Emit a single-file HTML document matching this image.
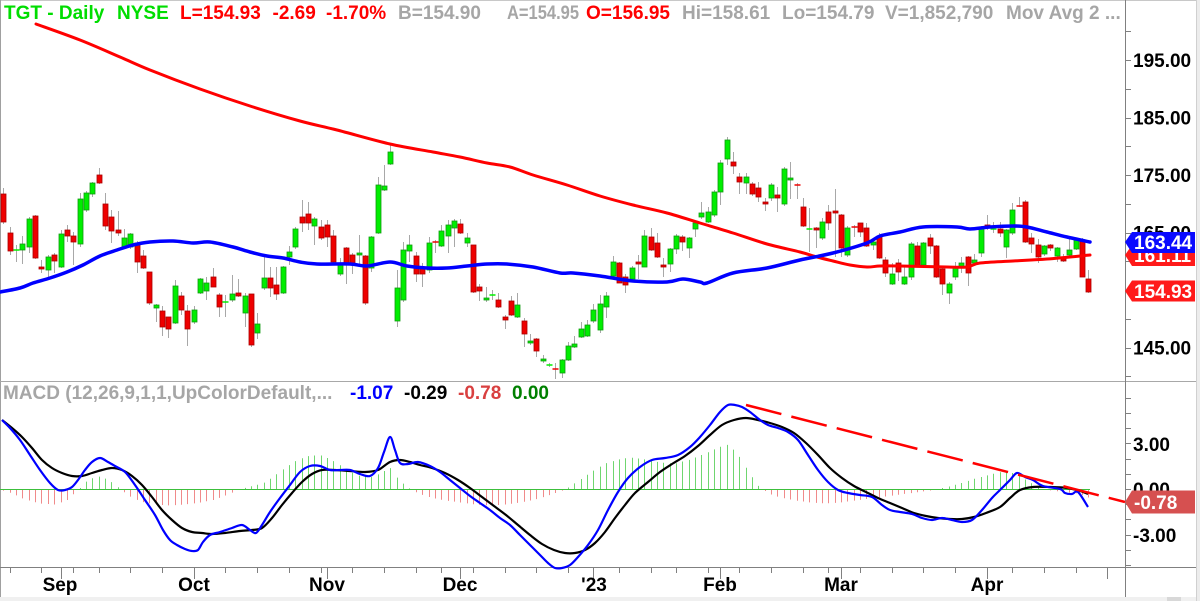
<!DOCTYPE html>
<html><head><meta charset="utf-8">
<style>
html,body{margin:0;padding:0;background:#fff;overflow:hidden;}
svg{display:block;}
text{font-family:"Liberation Sans",Arial,sans-serif;font-weight:bold;}
</style></head>
<body>
<svg id="svg" width="1200" height="601" viewBox="0 0 1200 601" xmlns="http://www.w3.org/2000/svg">
<rect x="0" y="0" width="1200" height="601" fill="#ffffff"/>
<rect x="1196" y="0" width="4" height="601" fill="#ececec"/>
<line x1="1196.5" y1="0" x2="1196.5" y2="601" stroke="#d0d0d0"/>
<rect x="0" y="597" width="1196" height="4" fill="#f0f0f0"/>
<rect x="1167" y="597" width="14" height="4" fill="#d8d8d8"/>
<line x1="0" y1="0.5" x2="1196" y2="0.5" stroke="#c8c8c8"/>
<line x1="0.5" y1="0" x2="0.5" y2="597" stroke="#a0a0a0"/>
<line x1="0" y1="381.5" x2="1196" y2="381.5" stroke="#a8a8a8"/>
<line x1="0" y1="567.5" x2="1196" y2="567.5" stroke="#808080"/>
<line x1="1125.5" y1="0" x2="1125.5" y2="597" stroke="#808080"/>

<g id="hist"></g>
<line x1="0" y1="489.5" x2="1090" y2="489.5" stroke="#3cbf3c" stroke-width="1"/>
<g id="macd"></g>
<g id="cand"></g>
<g id="ma"></g>
<g id="ticks" stroke="#808080" stroke-width="1"></g>

<!-- Price axis labels -->
<g font-size="19" fill="#000">
<text x="1133" y="66.8">195.00</text>
<text x="1133" y="124.3">185.00</text>
<text x="1133" y="181.8">175.00</text>
<text x="1133" y="239.3">165.00</text>
<text x="1133" y="296.8">155.00</text>
<text x="1133" y="354.3">145.00</text>
<text x="1133" y="450.8">3.00</text>
<text x="1133" y="495.8">0.00</text>
<text x="1133" y="541.8">-3.00</text>
</g>

<!-- Value boxes -->
<path d="M1125,255 L1132,245 L1195,245 L1195,266 L1132,266 Z" fill="#ff1a1a"/>
<text x="1134" y="262" font-size="19" fill="#fff">161.11</text>
<path d="M1125,242 L1132,232 L1195,232 L1195,253 L1132,253 Z" fill="#0a0aff"/>
<text x="1134" y="249" font-size="19" fill="#fff">163.44</text>
<path d="M1125,291 L1132,280.5 L1195,280.5 L1195,301.5 L1132,301.5 Z" fill="#ff1a1a"/>
<text x="1134" y="298" font-size="19" fill="#fff">154.93</text>
<path d="M1125,502 L1132,490.5 L1195,490.5 L1195,513.5 L1132,513.5 Z" fill="#d65050"/>
<text x="1134" y="509" font-size="19" fill="#fff">-0.78</text>

<!-- Month labels -->
<g font-size="19" fill="#000" text-anchor="middle">
<text x="60" y="591">Sep</text>
<text x="194" y="591">Oct</text>
<text x="327" y="591">Nov</text>
<text x="460" y="591">Dec</text>
<text x="594" y="591">'23</text>
<text x="720" y="591">Feb</text>
<text x="841" y="591">Mar</text>
<text x="987" y="591">Apr</text>
</g>

<!-- Title -->
<g font-size="19">
<text x="4" y="19" fill="#00dd00">TGT - Daily</text>
<text x="117" y="19" fill="#00dd00">NYSE</text>
<text x="180" y="19" fill="#ff0000">L=154.93</text>
<text x="272.5" y="19" fill="#ff0000">-2.69</text>
<text x="326" y="19" fill="#ff0000">-1.70%</text>
<text x="398" y="19" fill="#a6a6a6">B=154.90</text>
<text x="507" y="19" fill="#a6a6a6" textLength="72" lengthAdjust="spacingAndGlyphs">A=154.95</text>
<text x="586" y="19" fill="#ff0000">O=156.95</text>
<text x="682" y="19" fill="#a6a6a6">Hi=158.61</text>
<text x="782" y="19" fill="#a6a6a6">Lo=154.79</text>
<text x="885" y="19" fill="#a6a6a6">V=1,852,790</text>
<text x="1006" y="19" fill="#a6a6a6">Mov Avg 2 ...</text>
</g>
<g font-size="19">
<text x="3" y="399" fill="#a6a6a6">MACD (12,26,9,1,1,UpColorDefault,...</text>
<text x="350" y="399" fill="#0000ff">-1.07</text>
<text x="404" y="399" fill="#000000">-0.29</text>
<text x="458" y="399" fill="#d94040">-0.78</text>
<text x="512" y="399" fill="#008000">0.00</text>
</g>
</svg>
<script>
(function(){
var NS="http://www.w3.org/2000/svg";
function el(parent,tag,attrs){var e=document.createElementNS(NS,tag);for(var k in attrs)e.setAttribute(k,attrs[k]);document.getElementById(parent).appendChild(e);return e;}
var S=6.345,X0=3.4;function X(i){return X0+i*S;}
var D=[
[0,194,222,188,224],[0,233,251,227,255],[1,250,250,245,262],[1,244,250,236,264],[1,219,247,217,253],
[0,216,258,215,259],[0,267,269,260,273],[1,257,270,255,277],[0,255,261,253,273],[1,234,267,230,268],
[0,230,236,225,242],[0,236,242,232,265],[1,199,244,193,247],[1,193,210,191,212],[1,183,194,182,197],
[0,175,183,168,184],[0,204,226,193,230],[0,217,231,210,243],[0,230,233,211,236],[1,238,247,229,248],
[1,234,247,233,249],[0,243,262,241,273],[0,256,268,250,269],[0,272,303,272,305],[1,305,308,304,322],
[0,311,327,306,336],[0,317,329,317,338],[1,286,323,280,324],[0,296,310,292,315],[0,311,329,305,346],
[1,310,322,306,324],[1,279,293,278,294],[1,283,291,277,300],[0,277,287,268,287],[0,295,307,293,317],
[1,302,302,295,317],[1,294,300,275,302],[0,293,296,279,297],[1,296,313,293,327],[0,294,345,294,347],
[1,324,333,313,339],[1,278,288,256,290],[0,278,288,267,297],[0,285,294,267,300],[1,267,293,266,294],
[1,252,257,246,265],[1,229,247,227,249],[0,217,223,200,232],
[0,214,223,202,230],[1,219,226,217,245],[0,227,238,220,240],[0,225,237,220,247],[0,236,262,230,263],
[1,265,274,258,276],[0,248,264,247,284],[0,255,263,253,274],[1,253,255,235,267],[0,256,303,255,305],
[1,237,268,236,272],[1,185,233,177,234],[1,186,190,165,191],[1,152,164,144,165],[1,288,321,270,327],
[1,250,300,242,302],[1,245,251,235,262],[0,256,274,252,282],[0,268,274,263,287],[1,243,270,237,273],
[0,242,242,240,253],[1,231,246,225,247],[1,225,236,220,253],[1,221,228,219,247],[0,224,233,219,234],
[1,238,243,233,247],[0,245,292,245,293],[0,287,291,284,301],[1,298,300,287,302],[1,295,295,290,300],
[0,300,307,293,308],[0,317,320,315,329],[0,301,315,296,316],[1,305,317,293,318],[0,321,334,318,347],
[1,341,343,334,345],[0,339,351,338,357],[1,359,361,355,363],[1,365,365,363,367],[0,369,369,363,379],
[1,360,373,359,378],[1,346,360,342,361],[1,344,347,336,348],[1,329,337,322,338],[1,325,336,320,337],
[1,310,321,304,323],[1,304,330,295,333],
[1,296,307,292,318],[1,262,276,256,277],[0,263,283,262,283],[0,277,285,274,293],[1,268,279,266,281],
[0,262,264,255,279],[1,236,267,230,267],[0,237,250,228,251],[0,243,257,233,258],[0,265,267,258,277],
[1,249,264,248,272],[1,236,249,234,254],[0,237,242,235,251],[1,238,248,237,258],[1,223,229,221,237],
[1,213,217,202,219],[1,212,222,207,223],[1,192,215,190,217],[1,163,192,160,205],[1,140,159,137,165],
[0,162,166,152,174],[0,177,182,173,194],[1,177,183,173,194],[0,184,194,182,196],[0,188,197,182,202],
[0,202,204,198,211],[1,185,198,183,201],[0,195,198,187,212],[1,169,204,167,206],[1,178,180,162,199],
[0,185,185,183,199],[0,207,226,198,227],[1,229,229,208,252],[0,228,230,227,248],[1,222,238,218,240],
[0,212,223,205,230],[0,211,213,189,257],[0,215,248,214,257],[1,228,255,226,257],[0,227,227,225,237],
[0,223,232,223,237],[0,228,246,223,247],[1,242,245,240,250],[0,237,258,233,259],
[0,260,273,257,277],[1,274,284,263,285],[0,263,272,259,281],[1,277,284,265,285],[1,244,277,242,280],
[0,246,266,242,267],[1,243,265,242,266],[0,238,246,234,254],[0,246,277,245,278],[0,269,284,266,295],
[1,284,293,282,304],[1,267,277,262,280],[1,263,267,257,273],[0,257,273,256,286],[1,260,263,254,264],
[1,229,253,226,257],[0,225,227,215,230],[1,229,229,222,233],[0,229,233,222,237],[1,230,247,229,258],
[1,210,233,203,235],[0,206,206,197,207],[0,202,242,200,243],[0,238,244,233,253],[0,245,257,239,263],
[1,246,254,245,256],[0,245,248,244,251],[1,248,256,247,262],[0,257,261,254,262],[1,250,255,238,256],
[1,240,249,238,250],[0,241,277,238,277],[0,279,292,270,293]
];
for(var i=0;i<D.length;i++){
  var d=D[i],cx=Math.round(X(i))+0.5;
  el("cand","line",{x1:cx,y1:d[3],x2:cx,y2:d[4],stroke:"#a8a8a8","stroke-width":1});
  var fill=d[0]?"#00ee00":"#ee0000",st=d[0]?"#119911":"#aa0000";
  var h=d[2]-d[1];
  if(h<1.5){
    el("cand","rect",{x:cx-3,y:d[1]-0.75,width:6,height:1.5,fill:fill});
  } else {
    el("cand","rect",{x:cx-2.5,y:d[1],width:5,height:h,fill:fill,stroke:st,"stroke-width":0.8});
  }
}
function path(p){var s="M"+p[0][0]+","+p[0][1];for(var i=0;i<p.length-1;i++){var p0=p[i-1]||p[i],p1=p[i],p2=p[i+1],p3=p[i+2]||p2;
 s+=" C"+(p1[0]+(p2[0]-p0[0])/6)+","+(p1[1]+(p2[1]-p0[1])/6)+" "+(p2[0]-(p3[0]-p1[0])/6)+","+(p2[1]-(p3[1]-p1[1])/6)+" "+p2[0]+","+p2[1];}return s;}
var RED=[[36,24],[80,40],[120,57],[150,70],[200,89],[250,106],[300,121],[337,130],[390,144],[433,152],[460,157],[487,163],[510,167],[533,175],[567,185],[600,196],[633,205],[667,213],[700,223],[733,233],[767,244],[800,252],[817,257],[833,261],[850,265],[867,267],[880,266],[900,266],[947,267],[967,267],[980,263],[1013,261],[1047,259],[1090,255]];
var BLUE=[[0,292],[20,288],[33,283],[50,278],[67,272],[83,265],[100,256],[117,250],[133,245],[150,242],[173,241],[193,243],[210,242],[233,247],[250,252],[267,256],[283,258],[300,262],[317,264],[350,264],[367,266],[390,262],[407,266],[427,268],[447,268],[467,266],[487,264],[507,264],[533,267],[560,273],[573,273],[600,276],[633,281],[667,282],[683,279],[700,282],[707,283],[733,273],[767,268],[800,260],[833,253],[867,243],[880,236],[900,232],[923,227],[957,227],[970,229],[990,227],[1013,226],[1027,227],[1047,232],[1067,237],[1090,242]];
el("ma","path",{d:path(RED),fill:"none",stroke:"#ff0000","stroke-width":3,"stroke-linejoin":"round","stroke-linecap":"round"});
el("ma","path",{d:path(BLUE),fill:"none",stroke:"#0000ff","stroke-width":3.5,"stroke-linejoin":"round","stroke-linecap":"round"});
var MB=[[2,420],[10,428],[20,440],[30,455],[40,470],[50,483],[58,490],[65,490],[72,487],[78,480],[85,470],[92,462],[100,458],[108,462],[115,466],[125,472],[135,485],[145,500],[155,515],[163,530],[170,540],[177,545],[185,549],[192,551],[198,550],[203,542],[210,535],[220,532],[232,528],[242,525],[250,530],[256,533],[262,525],[270,512],[280,498],[290,485],[300,472],[310,466],[320,466],[330,470],[340,470],[350,470],[360,474],[370,476],[378,468],[384,452],[390,437],[395,450],[400,463],[408,464],[418,462],[430,466],[440,472],[450,480],[460,488],[470,496],[480,503],[490,510],[500,518],[510,525],[520,535],[530,545],[540,555],[548,563],[555,568],[562,568],[570,565],[578,557],[588,545],[598,530],[608,510],[618,492],[628,478],[640,467],[652,460],[665,458],[678,455],[690,447],[700,437],[710,425],[720,412],[728,405],[735,405],[742,407],[750,412],[760,420],[768,425],[778,428],[788,432],[798,440],[808,455],[818,470],[828,482],[838,490],[848,493],[860,495],[872,497],[882,505],[890,510],[900,512],[912,514],[922,518],[932,520],[942,518],[952,520],[962,522],[972,520],[982,510],[992,498],[1000,490],[1010,480],[1017,473],[1025,477],[1033,480],[1043,486],[1060,489],[1065,493],[1072,494],[1078,492],[1088,507]];
var MK=[[2,420],[12,428],[22,437],[32,448],[42,460],[52,468],[62,473],[72,476],[82,476],[92,473],[102,470],[112,468],[122,470],[132,476],[142,485],[152,497],[162,510],[172,520],[182,528],[192,532],[202,533],[212,534],[225,533],[240,531],[252,530],[262,528],[272,518],[282,505],[292,493],[302,482],[312,474],[322,470],[335,470],[350,471],[365,472],[378,470],[390,462],[400,460],[410,462],[420,465],[432,468],[445,473],[458,480],[470,488],[482,497],[494,506],[506,515],[518,525],[530,535],[542,544],[554,550],[565,553],[575,553],[585,550],[595,543],[605,532],[615,518],[625,505],[635,493],[648,482],[660,472],[672,464],[685,456],[698,446],[710,435],[722,425],[734,420],[746,418],[758,420],[770,423],[782,427],[794,433],[806,443],[818,455],[830,468],[842,478],[854,486],[866,492],[878,498],[890,503],[902,508],[914,513],[926,516],[938,518],[950,519],[962,519],[974,517],[986,513],[1000,507],[1010,498],[1020,490],[1033,487],[1050,487],[1067,488],[1080,491],[1088,494]];
var ENV=[[0,0],[12,-4],[25,-10],[40,-14],[55,-15],[68,-10],[78,0],[88,10],[98,13],[108,10],[118,2],[128,-6],[140,-12],[155,-15],[170,-16],[185,-15],[200,-13],[215,-10],[228,-5],[238,0],[250,3],[262,6],[272,12],[285,22],[298,30],[310,34],[322,34],[334,28],[346,20],[358,14],[370,12],[380,16],[390,22],[398,10],[408,2],[418,-4],[430,-8],[445,-11],[460,-13],[475,-15],[490,-16],[505,-15],[520,-13],[535,-10],[548,-6],[560,-2],[570,3],[580,10],[592,18],[605,26],[618,30],[630,32],[645,30],[660,27],[675,26],[690,30],[705,36],[718,42],[728,45],[738,35],[748,18],[758,4],[768,-4],[780,-8],[795,-11],[810,-13],[825,-14],[840,-13],[855,-11],[870,-9],[885,-7],[900,-5],[915,-3],[930,-1],[945,2],[960,6],[975,11],[990,15],[1003,18],[1015,16],[1025,10],[1035,4],[1045,0],[1058,-2],[1068,-3],[1078,-4],[1088,-8]];
function interp(a,x){if(x<=a[0][0])return a[0][1];for(var i=0;i<a.length-1;i++){if(x>=a[i][0]&&x<=a[i+1][0]){var t=(x-a[i][0])/(a[i+1][0]-a[i][0]);return a[i][1]+t*(a[i+1][1]-a[i][1]);}}return a[a.length-1][1];}
for(var i=0;i<D.length;i++){
  var x=Math.round(X(i))+0.5,v=interp(ENV,X(i));
  if(Math.abs(v)<0.5)continue;
  el("hist","line",{x1:x,y1:489.5,x2:x,y2:489.5-v,stroke:v>0?"#6fd66f":"#f08a8a","stroke-width":1});
}
el("macd","path",{d:path(MK),fill:"none",stroke:"#000","stroke-width":2.2,"stroke-linejoin":"round"});
el("macd","path",{d:path(MB),fill:"none",stroke:"#0000ff","stroke-width":2.2,"stroke-linejoin":"round"});
el("macd","line",{x1:746,y1:405,x2:1125,y2:502,stroke:"#ff0000","stroke-width":2.5,"stroke-dasharray":"36.5 10.3"});
for(var p=200;p>=140;p-=5){var y=60+(195-p)*5.75;if(y>380)continue;y=Math.round(y)+0.5;el("ticks","line",{x1:1125,y1:y,x2:1131,y2:y});}
for(var m=6;m>=-5;m--){var y=Math.round(489-m*15.17)+0.5;el("ticks","line",{x1:1125,y1:y,x2:1131,y2:y});}
var W=[1,6,11,15,20,25,35,40,45,50,55,60,65,69,74,79,84,89,97,102,106,111,116,121,126,130,135,140,145,150,159,164,169];
var M=[9,30,51,72,93,113,132,155,174];
W.forEach(function(i){var x=Math.round(X(i))+0.5;el("ticks","line",{x1:x,y1:568,x2:x,y2:573});});
M.forEach(function(i){var x=Math.round(X(i))+0.5;el("ticks","line",{x1:x,y1:568,x2:x,y2:579});});
})();
</script>
</body></html>
